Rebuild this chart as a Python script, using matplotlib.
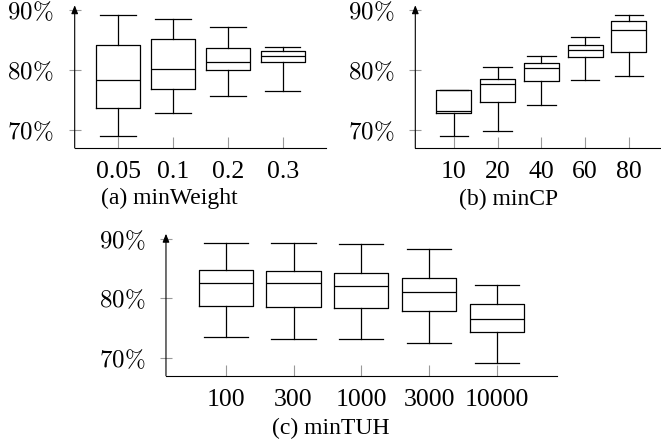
import matplotlib.pyplot as plt

# values in %
weight_labels = ['0.05', '0.1', '0.2', '0.3']
weight_lo = [69.0, 72.9, 75.6, 76.5]
weight_q1 = [73.6, 76.8, 80.05, 81.4]
weight_med = [78.3, 80.1, 81.3, 82.4]
weight_q3 = [84.2, 85.1, 83.7, 83.1]
weight_hi = [89.2, 88.5, 87.1, 83.8]

cp_labels = ['10', '20', '40', '60', '80']
cp_lo = [69.0, 69.8, 74.2, 78.3, 79.0]
cp_q1 = [72.9, 74.6, 78.2, 82.1, 83.0]
cp_med = [73.2, 77.6, 80.4, 83.3, 86.6]
cp_q3 = [76.6, 78.5, 81.2, 84.2, 88.2]
cp_hi = [76.7, 80.5, 82.4, 85.5, 89.2]

tuh_labels = ['100', '300', '1000', '3000', '10000']
tuh_lo = [73.5, 73.2, 73.1, 72.5, 69.05]
tuh_q1 = [78.7, 78.6, 78.3, 77.8, 74.4]
tuh_med = [82.6, 82.6, 82.1, 81.1, 76.5]
tuh_q3 = [84.7, 84.6, 84.2, 83.4, 79.0]
tuh_hi = [89.2, 89.2, 89.0, 88.2, 82.2]

plt.rcParams['font.family'] = 'Liberation Serif'
plt.rcParams['mathtext.fontset'] = 'cm'


def draw(ax, labels, lo, q1, med, q3, hi, xlim):
    stats = []
    for i in range(len(labels)):
        stats.append({'whislo': lo[i], 'q1': q1[i], 'med': med[i],
                      'q3': q3[i], 'whishi': hi[i], 'fliers': []})
    pos = list(range(1, len(labels) + 1))
    lw = 0.9
    ax.bxp(stats, positions=pos, widths=0.8, capwidths=0.65, showfliers=False,
           boxprops=dict(color='black', linewidth=lw),
           medianprops=dict(color='black', linewidth=lw),
           whiskerprops=dict(color='black', linewidth=lw),
           capprops=dict(color='black', linewidth=lw))
    ax.set_xlim(*xlim)
    ax.set_ylim(67, 90.8)
    ax.set_xticks(pos)
    ax.set_xticklabels(labels, fontsize=18.5)
    ax.set_yticks([70, 80, 90])
    ax.set_yticklabels([r'$70\%$', r'$80\%$', r'$90\%$'], fontsize=18)
    for s in ['top', 'right', 'left']:
        ax.spines[s].set_visible(False)
    ax.spines['bottom'].set_linewidth(0.8)
    ax.tick_params(axis='x', direction='in', length=8, width=0.8, color='0.6', pad=9.5)
    ax.tick_params(axis='y', direction='inout', length=9, width=0.8, color='0.6', pad=10.5)
    ax.annotate('', xy=(xlim[0], 90.8), xytext=(xlim[0], 67), xycoords='data',
                arrowprops=dict(arrowstyle='-|>,head_length=0.5,head_width=0.2',
                                color='black', lw=0.8, shrinkA=0, shrinkB=0),
                annotation_clip=False)


fig = plt.figure(figsize=(6.61, 4.40), dpi=100)
ax_a = fig.add_axes([0.1130, 0.6636, 0.3802, 0.3245])
ax_b = fig.add_axes([0.6283, 0.6636, 0.3814, 0.3245])
ax_c = fig.add_axes([0.2511, 0.1461, 0.5911, 0.3227])

draw(ax_a, weight_labels, weight_lo, weight_q1, weight_med, weight_q3, weight_hi, (0.21, 4.79))
draw(ax_b, cp_labels, cp_lo, cp_q1, cp_med, cp_q3, cp_hi, (0.115, 5.885))
draw(ax_c, tuh_labels, tuh_lo, tuh_q1, tuh_med, tuh_q3, tuh_hi, (0.12, 5.88))

fig.text(169 / 661, 1 - 198 / 440, '(a) minWeight', fontsize=17, ha='center', va='center')
fig.text(509 / 661, 1 - 199 / 440, '(b) minCP', fontsize=17, ha='center', va='center')
fig.text(331 / 661, 1 - 428 / 440, '(c) minTUH', fontsize=17, ha='center', va='center')

fig.savefig('out.png', dpi=100)
